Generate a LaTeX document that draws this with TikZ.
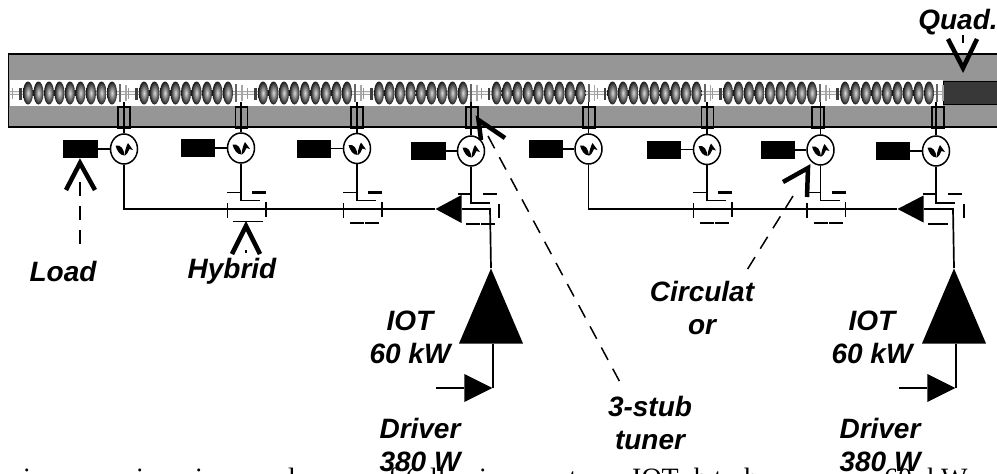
\documentclass[tikz,border=0pt]{standalone}
\usepackage{fontspec}
\setmainfont{Liberation Sans}
\newfontfamily\bodyserif{Liberation Serif}
\usepackage{xcolor}
\usetikzlibrary{arrows.meta,positioning,shapes.geometric}
\definecolor{tankgrey}{HTML}{969696}
\definecolor{quadgrey}{HTML}{383838}
\begin{document}
\begin{tikzpicture}[x=1pt,y=-1pt,
    lab/.style={font=\fontsize{28}{33}\selectfont\bfseries\itshape, align=center, inner sep=0pt},
    feedline/.style={line width=1.7pt},
    hybthin/.style={line width=1.4pt},
    hybthick/.style={line width=2.4pt},
    hybdash/.style={line width=1.8pt},
    chevron/.style={line width=4.5pt, miter limit=10},
    leader/.style={line width=1.5pt, dash pattern=on 14pt off 10pt},
    loadbox/.style={draw=none, fill=black, minimum width=34.5pt, minimum height=18pt, inner sep=0pt},
    circbox/.style={draw, ellipse, line width=1.5pt, fill=white, minimum width=27pt, minimum height=30pt, inner sep=0pt},
    cplbox/.style={draw, line width=1.6pt, minimum width=12pt, minimum height=21pt, inner sep=0pt},
    triup/.style={isosceles triangle, isosceles triangle stretches, fill=black, inner sep=0pt, anchor=apex}]
  \useasboundingbox (0,0) rectangle (997,474);

  \begin{scope}
    \clip (0,0) rectangle (997,474);
    \foreach \tx/\word in {23/i,136/i,195/i,288/l,388/f,405/(,430/ll,479/i,569/t,632/IOT,694/b,714/t,744/h,884/60,927/kW}
      \node[font=\bodyserif\fontsize{28}{33}\selectfont, inner sep=0pt, anchor=base west] at (\tx,487.5) {\word};
  \end{scope}

  \fill[tankgrey] (8,54) rectangle (997,127);
  \draw[line width=1.6pt] (997,54) -- (8.5,54) -- (8.5,127) -- (997,127);
  \fill[white] (9.5,80) rectangle (943,106);
  \node[draw, line width=1.4pt, fill=quadgrey, minimum width=54pt, minimum height=23pt, inner sep=0pt, anchor=north west] (quad) at (943,80.5) {};

  \draw[gray!70, line width=4.5pt] (9.5,93) -- (943,93);
  \draw[gray!10, line width=1.5pt] (9.5,93) -- (943,93);
  \foreach \sx in {28,144,263,379,496.5,612.5,728,845} {
    \foreach \k in {0,...,8}
      \shade[inner color=gray!30, outer color=black!90] ({\sx+10.5*\k},93) ellipse (5 and 11.5);
    \fill[black!75] ({\sx-9},88) rectangle ({\sx-6.5},100);
    \fill[gray!80] ({\sx-16},88) rectangle ({\sx-15},99);
    \fill[black!60] ({\sx+91},84) rectangle ({\sx+93},102);
    \fill[gray!70] ({\sx+97},85) rectangle ({\sx+98.5},101);
  }

  \foreach \n/\cx/\cy/\lx/\px in {1/124/149/80.5/124, 2/241/148/198/241.5, 3/357/148.5/314/357,
      4/471/151/428.5/472, 5/588.5/149/546/589, 6/707/149.5/664/707.5,
      7/820.5/150/778/818, 8/936/151/893/938} {
    \node[loadbox] (load\n) at (\lx,\cy) {};
    \node[circbox] (circ\n) at (\cx,\cy) {};
    \node[cplbox] (cpl\n) at (\px,117.5) {};
    \coordinate (stub\n) at (\cx,102);
    \draw[feedline] (load\n) -- (circ\n);
    \draw[feedline] (circ\n) -- (stub\n);
    \fill[shift={(\cx,\cy)}] (-8.5,-3.5) .. controls (-3,-4.5) and (0,0) .. (0.5,6.5) .. controls (-4,6.5) and (-7,2) .. cycle;
    \fill[shift={(\cx,\cy)}] (0.5,6.5) .. controls (1,1) and (2,-2) .. (4,-6) -- (9,1) -- (5.5,0) .. controls (4.5,3) and (2,6.5) .. cycle;
  }

  \coordinate (endA) at (490,209);
  \node[triup, shape border rotate=180, minimum width=28pt, minimum height=26pt] (arrowA) at (435,209) {};
  \node[triup, shape border rotate=90, minimum width=64pt, minimum height=75pt] (iotA) at (491,268) {};
  \node[triup, shape border rotate=0, minimum width=28pt, minimum height=28pt] (drvA) at (493,388) {};
  \coordinate (inA) at (436,388);
  \coordinate (endB) at (953,209);
  \node[triup, shape border rotate=180, minimum width=27pt, minimum height=26pt] (arrowB) at (897,209) {};
  \node[triup, shape border rotate=90, minimum width=64pt, minimum height=75pt] (iotB) at (954,268) {};
  \node[triup, shape border rotate=0, minimum width=28pt, minimum height=28pt] (drvB) at (956,388) {};
  \coordinate (inB) at (899,388);

  \draw[feedline] (circ1) |- (arrowA.apex);
  \draw[feedline] (circ5) |- (arrowB.apex);
  \draw[feedline] (arrowA.lower side) ++(12,0) -- (endA) -- (iotA.apex);
  \draw[feedline] (arrowB.lower side) ++(12,0) -- (endB) -- (iotB.apex);
  \draw[hybthick] (arrowA.lower side) -- ++(13,0);
  \draw[hybthick] (arrowB.lower side) -- ++(13,0);
  \draw[feedline] (drvA.apex) -- (drvA.apex |- iotA.lower side);
  \draw[feedline] (drvB.apex) -- (drvB.apex |- iotB.lower side);
  \draw[feedline] (inA) -- (drvA);
  \draw[feedline] (inB) -- (drvB);

  \foreach \n/\c/\w in {2/241/hybthick, 3/357/hybthin, 6/707/hybthick, 7/820.5/hybthin} {
    \draw[feedline] (circ\n) -- (\c,200.5) -- ({\c+19},200.5);
    \draw[hybthin] ({\c-14},192.5) -- (\c,192.5);
    \draw[hybthick] ({\c+11},192.5) -- ({\c+25},192.5);
    \draw[hybthin] ({\c-13.5},203) -- ({\c-13.5},218);
    \draw[\w] ({\c+25},202) -- ({\c+25},217);
  }
  \foreach \c in {357,707,820.5} {
    \draw[hybdash] ({\c-7},223) -- ({\c+7},223);
    \draw[hybdash] ({\c+8},223) -- ({\c+22},223);
  }
  \draw[hybdash] (233,221.5) -- (263,221.5);
  \foreach \n/\c in {4/471,8/936} {
    \draw[feedline] (circ\n) -- (\c,203) -- ({\c+19},203);
    \draw[hybthin] ({\c-13},194) -- (\c,194);
    \draw[hybthick] ({\c+12},194) -- ({\c+26},194);
    \draw[hybthick] ({\c+28},204) -- ({\c+28},218);
  }
  \foreach \a/\b in {466/480,481/495}
    \draw[hybdash] (\a,224) -- (\b,224);
  \draw[hybdash] (928,224) -- (948,224);

  \node[lab] (lblLoad) at (63,271) {Load};
  \node[lab] (lblHybrid) at (232,271) {Hybrid};
  \node[lab] (lblIotA) at (410,337) {IOT\\60 kW};
  \node[lab] (lblIotB) at (872,337) {IOT\\60 kW};
  \node[lab] (lblDrvA) at (420,445) {Driver\\380 W};
  \node[lab] (lblDrvB) at (880,445) {Driver\\380 W};
  \node[lab] (lblStub) at (650,423) {3-stub\\tuner};
  \node[lab] (lblCirc) at (702,308) {Circulat\\or};
  \node[lab] (lblQuad) at (958,22) {Quad.};

  \draw[chevron] (66,190) -- (80,163) -- (95,190);
  \draw[leader] (80,182) -- (80,244);
  \draw[chevron] (232,254) -- (246,226) -- (260,254);
  \draw[line width=2pt] (245.5,250) -- (245.5,253);
  \draw[chevron] (948,39) -- (963,68) -- (977,39);
  \draw[line width=2pt] (lblQuad.south -| 963,0) -- (963,43);
  \draw[chevron] (505,138) -- (478.5,120) -- (481,140);
  \draw[leader] (488,136) -- (622,386);
  \draw[chevron] (783,182) -- (808,168) -- (807,197);
  \draw[leader] (793,196) -- (747,270);
\end{tikzpicture}
\end{document}
